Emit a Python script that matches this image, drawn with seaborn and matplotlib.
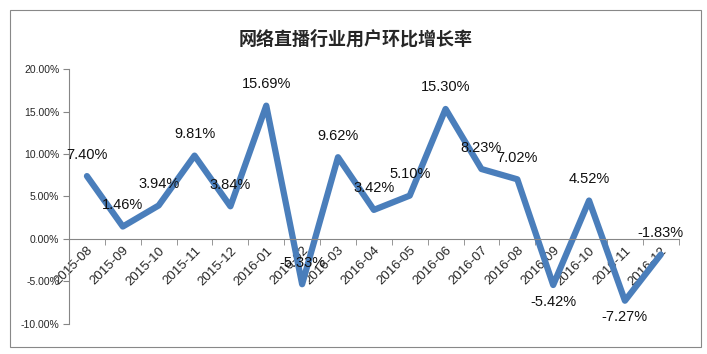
import pandas as pd
import matplotlib.pyplot as plt
import seaborn as sns
from matplotlib.patches import Rectangle
from matplotlib.ticker import FixedLocator, FuncFormatter

months = ['2015-08', '2015-09', '2015-10', '2015-11', '2015-12', '2016-01',
          '2016-02', '2016-03', '2016-04', '2016-05', '2016-06', '2016-07',
          '2016-08', '2016-09', '2016-10', '2016-11', '2016-12']
rates = [7.40, 1.46, 3.94, 9.81, 3.84, 15.69, -5.33, 9.62, 3.42, 5.10,
         15.30, 8.23, 7.02, -5.42, 4.52, -7.27, -1.83]
# labels drawn under the point instead of above
below = ['2016-09', '2016-11']

df = pd.DataFrame({'month': months, 'rate': rates})

sns.set_style('white')
plt.rcParams['font.family'] = ['Liberation Sans', 'Noto Sans CJK SC', 'DejaVu Sans']

fig = plt.figure(figsize=(7.07, 3.54), dpi=100)
ax = fig.add_axes([0.0976, 0.085, 0.8624, 0.72])

sns.lineplot(data=df, x='month', y='rate', sort=False, color='#4a7ebb',
             linewidth=4.5, ax=ax)

for i, (m, v) in enumerate(zip(months, rates)):
    dy = -12 if m in below else 15.5
    ax.annotate(f'{v:.2f}%', (i, v), xytext=(0, dy), textcoords='offset points',
                ha='center', va='center', fontsize=10.5, color='#111111')

ax.set_xlim(-0.5, len(months) - 0.5)
ax.set_ylim(-10, 20)
ax.set_yticks([-10, -5, 0, 5, 10, 15, 20])
ax.yaxis.set_major_formatter(FuncFormatter(lambda v, p: f'{v:.2f}%'))
ax.set_xlabel('')
ax.set_ylabel('')

ax.spines['top'].set_visible(False)
ax.spines['right'].set_visible(False)
ax.spines['bottom'].set_position(('data', 0))
for s in ['left', 'bottom']:
    ax.spines[s].set_color('#868686')
    ax.spines[s].set_linewidth(0.8)

ax.set_xticks(range(len(months)))
ax.set_xticklabels(months, rotation=45, ha='right', rotation_mode='anchor',
                   fontsize=9.5)
ax.tick_params(axis='x', which='major', length=0, pad=4)
ax.xaxis.set_minor_locator(FixedLocator([i + 0.5 for i in range(-1, len(months))]))
ax.tick_params(axis='x', which='minor', bottom=True, length=4, color='#868686',
               direction='out')
ax.tick_params(axis='y', left=True, length=4, color='#868686', labelsize=7.5,
               pad=3)

fig.text(0.503, 0.89, '网络直播行业用户环比增长率', ha='center', va='center',
         fontsize=13, fontweight='bold',
         family=['Noto Sans CJK SC', 'DejaVu Sans'])

fig.patches.append(Rectangle((0.014, 0.02), 0.978, 0.952, transform=fig.transFigure,
                             fill=False, edgecolor='#888888', linewidth=0.8))

plt.savefig('out.png', dpi=100)
